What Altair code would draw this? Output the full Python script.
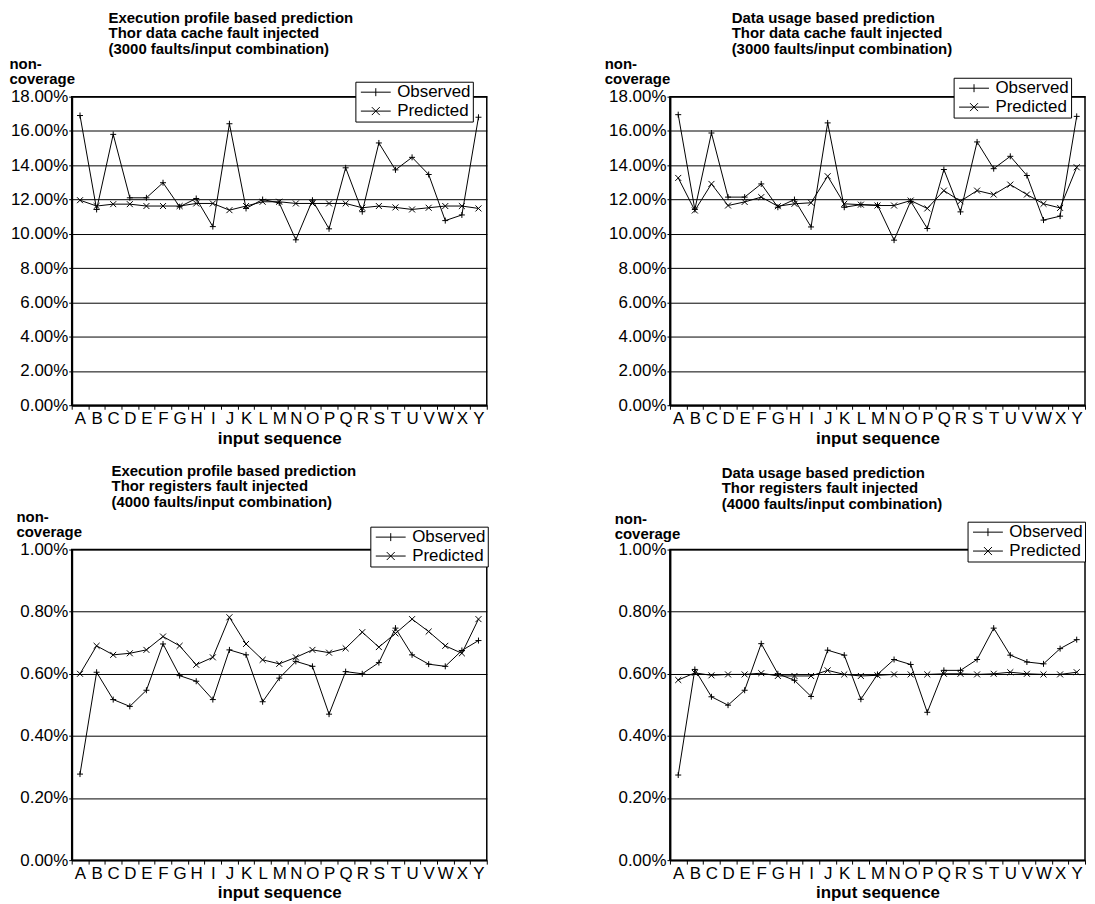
import altair as alt
import pandas as pd

letters = list("ABCDEFGHIJKLMNOPQRSTUVWXY")
series_names = ["Observed", "Predicted"]

# values in percent
tl_obs = [16.9, 11.42, 15.8, 12.1, 12.1, 12.98, 11.58, 12.06, 10.42, 16.42, 11.48, 12.0, 11.8,
          9.65, 11.96, 10.29, 13.85, 11.29, 15.3, 13.73, 14.46, 13.46, 10.77, 11.1, 16.8]
tl_pred = [11.96, 11.62, 11.73, 11.73, 11.62, 11.62, 11.62, 11.77, 11.77, 11.38, 11.62, 11.87, 11.87,
           11.77, 11.77, 11.77, 11.77, 11.52, 11.62, 11.54, 11.42, 11.52, 11.62, 11.62, 11.48]

tr_obs = [16.95, 11.42, 15.88, 12.14, 12.14, 12.91, 11.55, 12.0, 10.4, 16.47, 11.55, 11.7, 11.67,
          9.63, 11.9, 10.31, 13.75, 11.28, 15.36, 13.8, 14.52, 13.4, 10.8, 11.03, 16.85]
tr_pred = [13.26, 11.36, 12.91, 11.65, 11.86, 12.14, 11.61, 11.75, 11.81, 13.36, 11.75, 11.7, 11.65,
           11.65, 11.94, 11.48, 12.52, 11.9, 12.52, 12.29, 12.87, 12.29, 11.75, 11.51, 13.88]

bl_obs = [0.277, 0.605, 0.517, 0.495, 0.547, 0.696, 0.594, 0.576, 0.517, 0.677, 0.661, 0.51, 0.586,
          0.64, 0.624, 0.47, 0.607, 0.6, 0.636, 0.747, 0.661, 0.631, 0.624, 0.675, 0.707]
bl_pred = [0.6, 0.69, 0.661, 0.666, 0.677, 0.72, 0.69, 0.629, 0.653, 0.782, 0.696, 0.645, 0.632,
           0.653, 0.677, 0.668, 0.682, 0.734, 0.686, 0.73, 0.776, 0.736, 0.69, 0.666, 0.776]

br_obs = [0.274, 0.614, 0.526, 0.499, 0.547, 0.697, 0.6, 0.579, 0.527, 0.676, 0.66, 0.518, 0.598,
          0.646, 0.63, 0.476, 0.611, 0.611, 0.646, 0.747, 0.66, 0.638, 0.632, 0.681, 0.71]
br_pred = [0.58, 0.603, 0.595, 0.598, 0.598, 0.602, 0.593, 0.593, 0.593, 0.611, 0.598, 0.593, 0.595,
           0.598, 0.598, 0.598, 0.6, 0.6, 0.598, 0.6, 0.605, 0.6, 0.598, 0.598, 0.605]

titles = {
    "tl": ["Execution profile based prediction", "Thor data cache fault injected",
           "(3000 faults/input combination)"],
    "tr": ["Data usage based prediction", "Thor data cache fault injected",
           "(3000 faults/input combination)"],
    "bl": ["Execution profile based prediction", "Thor registers fault injected",
           "(4000 faults/input combination)"],
    "br": ["Data usage based prediction", "Thor registers fault injected",
           "(4000 faults/input combination)"],
}

FONT = "Liberation Sans"
OBS_MARK = "M-1,0H1M0,-1V1"
PRED_MARK = "M-1,-1L1,1M-1,1L1,-1"
OBS_LEG = "M-3,0H3M0,-0.8V0.8"
PRED_LEG = "M-3,0H3M-0.8,-0.8L0.8,0.8M-0.8,0.8L0.8,-0.8"


def frame(obs, pred):
    rows = []
    for i, L in enumerate(letters):
        rows.append({"seq": L, "series": "Observed", "value": obs[i] / 100.0})
        rows.append({"seq": L, "series": "Predicted", "value": pred[i] / 100.0})
    return pd.DataFrame(rows)


def panel(obs, pred, title_lines, ymax, ystep, w, h, title_dx, yt_x, yt_y, leg_x, leg_y):
    df = frame(obs, pred)
    n = int(round(ymax / ystep))
    ticks = [round(i * ystep, 6) for i in range(n + 1)]
    x = alt.X(
        "seq:N", sort=letters,
        scale=alt.Scale(type="band", paddingInner=0, paddingOuter=0),
        axis=alt.Axis(title="input sequence", labelAngle=0, labelFontSize=17, labelPadding=1,
                      tickBand="extent", tickSize=4, tickColor="black", grid=False,
                      domainColor="black", domainWidth=2,
                      titleFontSize=17, titleFontWeight="bold", titlePadding=4),
    )
    y = alt.Y(
        "value:Q", scale=alt.Scale(domain=[0, ymax], nice=False, zero=True),
        axis=alt.Axis(values=ticks, format=".2%", labelFontSize=17, labelPadding=1,
                      tickSize=3, tickColor="black", grid=True, gridColor="black",
                      gridWidth=1, gridOpacity=1, domainColor="black", domainWidth=2,
                      title=["non-", "coverage"], titleAngle=0, titleAlign="left",
                      titleBaseline="top", titleX=yt_x, titleY=yt_y, titleFontSize=15,
                      titleFontWeight="bold", titleLineHeight=15),
    )
    base = alt.Chart(df).encode(x=x, y=y)
    line = base.mark_line(color="black", strokeWidth=1).encode(detail="series:N")
    pts = base.mark_point(filled=False, color="black", strokeWidth=1, size=36, opacity=1).encode(
        shape=alt.Shape("series:N",
                        scale=alt.Scale(domain=series_names, range=[OBS_MARK, PRED_MARK]),
                        legend=None)
    )
    leg = base.mark_point(filled=False, color="black", strokeWidth=1, size=100, opacity=1).encode(
        shape=alt.Shape("series:N",
                        scale=alt.Scale(domain=series_names, range=[OBS_LEG, PRED_LEG]),
                        legend=alt.Legend(title=None, orient="none", legendX=leg_x, legendY=leg_y,
                                          strokeColor="black", fillColor="white", padding=2,
                                          rowPadding=1, labelFontSize=17, labelColor="black",
                                          labelFont=FONT, symbolSize=100, symbolOffset=10,
                                          labelOffset=13, symbolStrokeColor="black",
                                          symbolStrokeWidth=1, cornerRadius=0))
    ).transform_filter("false")
    return alt.layer(line, pts, leg).resolve_scale(shape="independent").properties(
        width=w, height=h,
        title=alt.TitleParams(text=title_lines, anchor="start", frame="group", dx=title_dx,
                              font=FONT, fontSize=15, fontWeight="bold", lineHeight=15.5,
                              offset=0, color="black"),
    )


tl = panel(tl_obs, tl_pred, titles["tl"], 0.18, 0.02, 417, 310, 37, -63, -40, 285, -15)
tr = panel(tr_obs, tr_pred, titles["tr"], 0.18, 0.02, 417, 310, 62, -66, -40, 285, -19)
bl = panel(bl_obs, bl_pred, titles["bl"], 0.01, 0.002, 417, 312, 40, -56, -40, 300, -23)
br = panel(br_obs, br_pred, titles["br"], 0.01, 0.002, 417, 312, 52, -56, -38, 299, -28)

chart = alt.concat(tl, tr, bl, br, columns=2, spacing={"row": 16, "column": 114}).properties(
    padding={"left": 0, "top": 0, "right": 0, "bottom": 0}
).configure_view(
    stroke="black", strokeWidth=1.5
).configure_axis(
    labelFont=FONT, titleFont=FONT, labelColor="black", titleColor="black"
).configure_legend(
    labelFont=FONT
)

chart.save("out.html", embed_options={"renderer": "svg", "actions": False})
